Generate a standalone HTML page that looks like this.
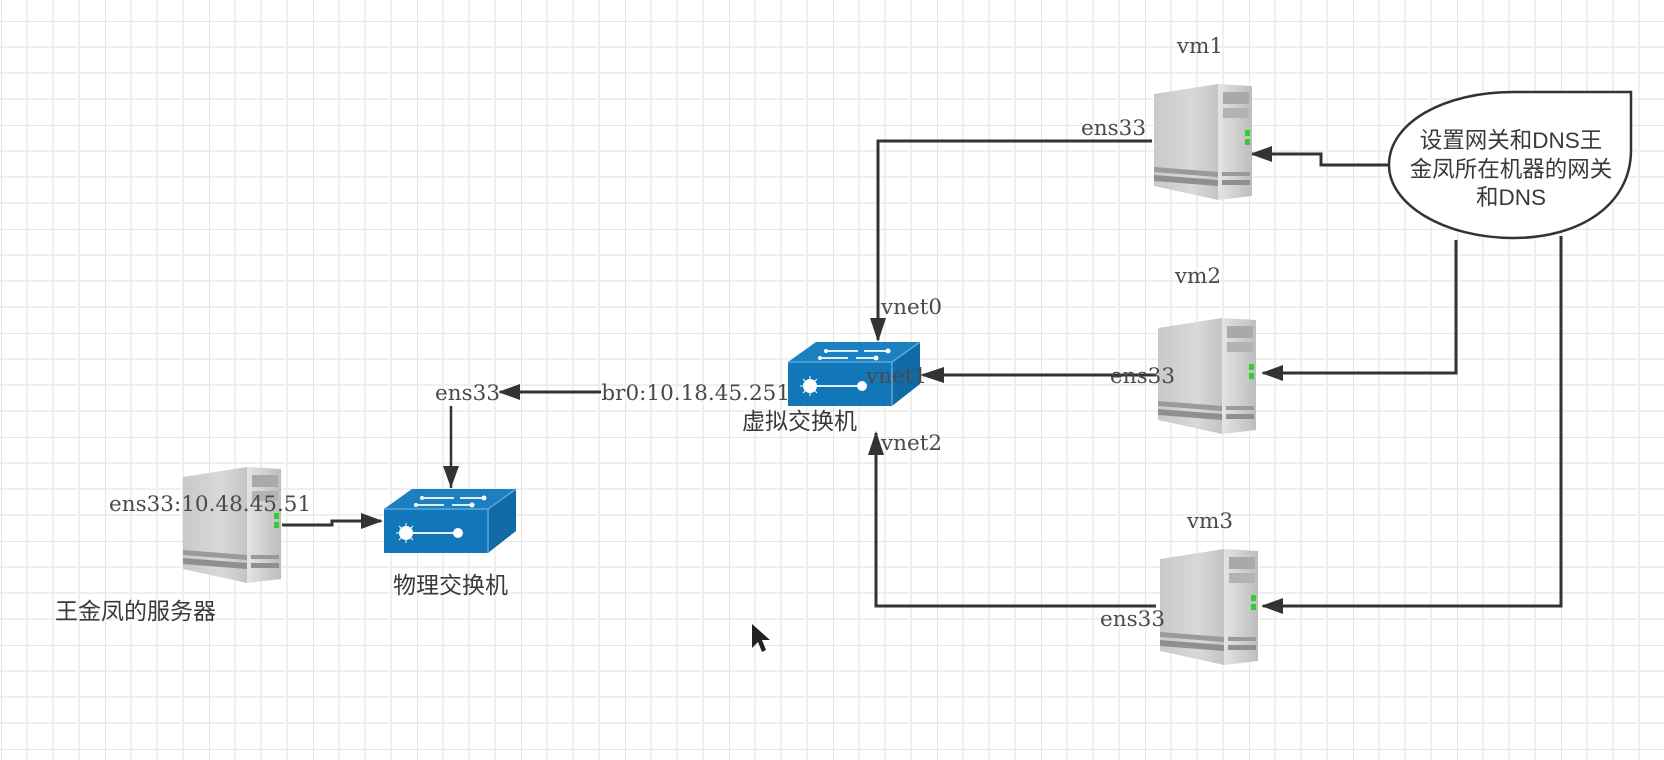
<!DOCTYPE html>
<html><head><meta charset="utf-8"><style>
html,body{margin:0;padding:0;background:#fff}
svg{display:block}
.s{font-family:"DejaVu Serif","Liberation Serif",serif;font-size:21.5px;fill:#4a4a4a}
.c{font-family:"Liberation Sans","Noto Sans CJK SC",sans-serif;font-size:23px;fill:#3a3a3a}
.cc{font-family:"Liberation Sans","Noto Sans CJK SC",sans-serif;font-size:22.5px;fill:#3a3a3a}
</style></head><body>
<svg width="1664" height="760" viewBox="0 0 1664 760" xmlns="http://www.w3.org/2000/svg">
<defs>
<pattern id="g" x="1" y="21" width="104" height="104" patternUnits="userSpaceOnUse">
<path d="M26 0V104M52 0V104M78 0V104M0 26H104M0 52H104M0 78H104" stroke="#f0f0f0" stroke-width="2" fill="none"/>
<path d="M0 0V104M0 0H104" stroke="#e6e6e6" stroke-width="2" fill="none"/>
</pattern>
<linearGradient id="lf" x1="0" x2="1"><stop offset="0" stop-color="#c9c9c9"/><stop offset="0.6" stop-color="#d8d8d8"/><stop offset="1" stop-color="#c4c4c4"/></linearGradient>
<linearGradient id="rf" x1="0" x2="1"><stop offset="0" stop-color="#e4e4e4"/><stop offset="1" stop-color="#bdbdbd"/></linearGradient>
<g id="srv">
<polygon points="0,12 64,2 64,118 0,104" fill="url(#lf)"/>
<polygon points="64,2 98,4 98,114 64,118" fill="url(#rf)"/>
<rect x="69" y="10" width="26" height="12" fill="#a9a9a9"/>
<rect x="69" y="26" width="26" height="10" fill="#b3b3b3"/>
<polygon points="0,85 64,90 64,95 0,90" fill="#9a9a9a"/>
<polygon points="0,93 64,98 64,104 0,99" fill="#8f8f8f"/>
<rect x="68" y="90" width="28" height="4" fill="#9a9a9a"/>
<rect x="68" y="98" width="28" height="5" fill="#8f8f8f"/>
<rect x="91" y="48" width="5" height="6" fill="#3c3"/>
<rect x="91" y="57" width="5" height="6" fill="#3c3"/>
</g>
<g id="sw">
<polygon points="0,20 28,0 132,0 104,20" fill="#1b7fc0"/>
<polygon points="104,20 132,0 132,42 104,64" fill="#106aa6"/>
<rect x="0" y="20" width="104" height="44" fill="#1177b8"/>
<path d="M104 20 L132 0 M0 20H104V64" stroke="#5aa8dc" stroke-width="1.5" fill="none"/>
<path d="M40 9H70M76 9H100M34 16H60M68 16H88" stroke="#dceefa" stroke-width="2"/>
<circle cx="100" cy="9" r="2.5" fill="#fff"/><circle cx="88" cy="16" r="2.5" fill="#fff"/>
<circle cx="38" cy="9" r="2" fill="#fff"/><circle cx="32" cy="16" r="2" fill="#fff"/>
<path d="M22 44H72" stroke="#dceefa" stroke-width="2"/>
<circle cx="22" cy="44" r="7" fill="#fff"/><circle cx="74" cy="44" r="5" fill="#fff"/>
<path d="M12 44H32M22 34V54M15 37L29 51M29 37L15 51" stroke="#fff" stroke-width="1"/>
</g>
</defs>
<rect width="1664" height="760" fill="url(#g)"/>

<g stroke="#333" stroke-width="3" fill="none">
<path d="M1152 141H878V340"/>
<path d="M1156 375H923"/>
<path d="M1156 606H876V433"/>
<path d="M601 392H500"/>
<path d="M451 406V488" stroke-width="2.5"/>
<path d="M282 525H332V521H381"/>
<path d="M1394 165H1321V154H1252"/>
<path d="M1456 240V373H1263"/>
<path d="M1561 236V606H1263"/>
</g>
<g fill="#333">
<path d="M870 318L886 318L878 342z"/>
<path d="M920 375L944 367L944 383z"/>
<path d="M876 431L868 455L884 455z"/>
<path d="M498 392L520 384L520 400z"/>
<path d="M451 488L443 466L459 466z"/>
<path d="M383 521L361 513L361 529z"/>
<path d="M1250 154L1272 146L1272 162z"/>
<path d="M1261 373L1283 365L1283 381z"/>
<path d="M1261 606L1283 598L1283 614z"/>
</g>

<use href="#srv" x="1154" y="82"/>
<use href="#srv" x="1158" y="316"/>
<use href="#srv" x="1160" y="547"/>
<use href="#srv" x="183" y="465"/>
<use href="#sw" x="788" y="342"/>
<use href="#sw" x="384" y="489"/>

<path d="M1513 92H1631V150C1631 205 1580 238 1513 238C1445 238 1389 205 1389 165C1389 122 1445 92 1513 92Z" fill="#fff" stroke="#333" stroke-width="2.5"/>
<text class="cc" x="1511" y="148" text-anchor="middle">设置网关和DNS王</text>
<text class="cc" x="1511" y="177" text-anchor="middle">金凤所在机器的网关</text>
<text class="cc" x="1511" y="205" text-anchor="middle">和DNS</text>

<text class="s" x="1200" y="53" text-anchor="middle">vm1</text>
<text class="s" x="1198" y="283" text-anchor="middle">vm2</text>
<text class="s" x="1210" y="528" text-anchor="middle">vm3</text>
<text class="s" x="1146" y="135" text-anchor="end">ens33</text>
<text class="s" x="1175" y="383" text-anchor="end">ens33</text>
<text class="s" x="1165" y="626" text-anchor="end">ens33</text>
<text class="s" x="881" y="314">vnet0</text>
<text class="s" x="866" y="383">vnet1</text>
<text class="s" x="881" y="450">vnet2</text>
<text class="s" x="790" y="400" text-anchor="end">br0:10.18.45.251</text>
<text class="s" x="500" y="400" text-anchor="end">ens33</text>
<text class="s" x="109" y="511">ens33:10.48.45.51</text>
<text class="c" x="742" y="429">虚拟交换机</text>
<text class="c" x="393" y="593">物理交换机</text>
<text class="c" x="55" y="619">王金凤的服务器</text>
<path d="M752 624V648L758 642L762 652L766 650L762 640L770 640Z" fill="#222"/>
</svg>
</body></html>
